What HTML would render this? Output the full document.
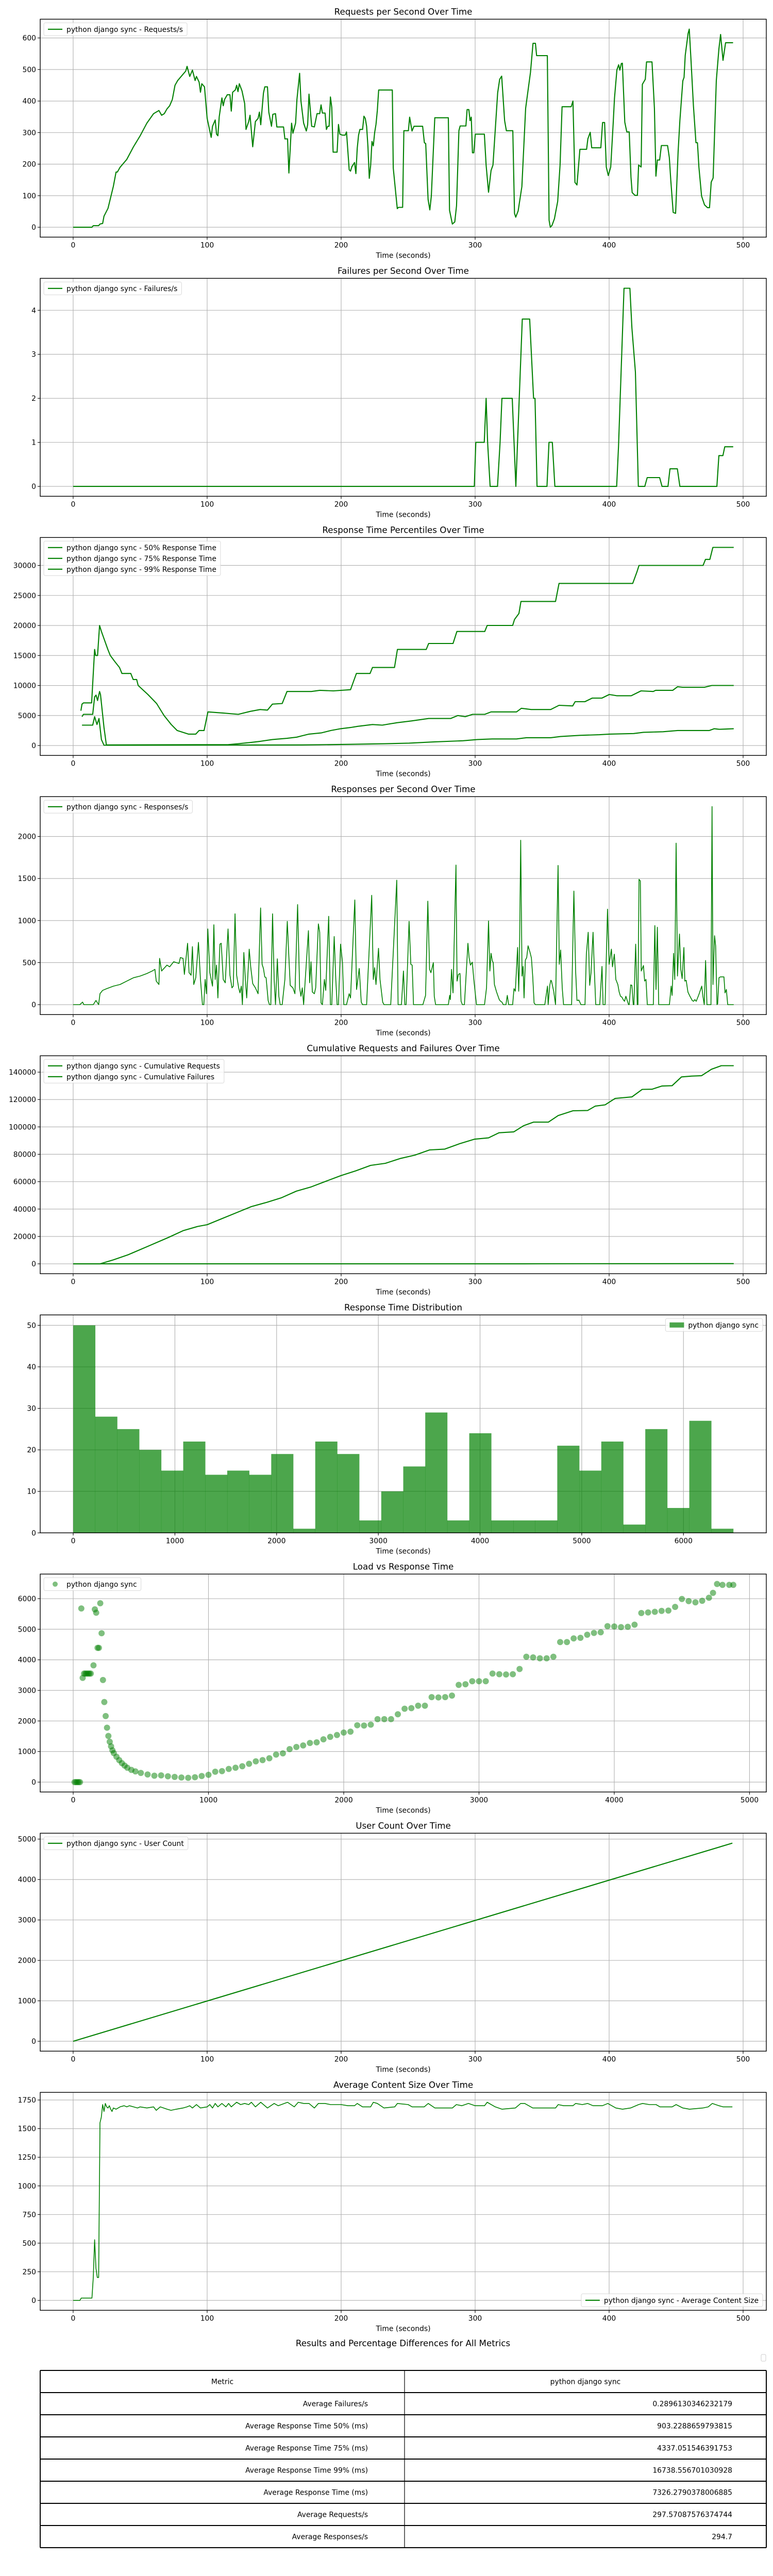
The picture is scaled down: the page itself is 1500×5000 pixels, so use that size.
<!DOCTYPE html>
<html><head><meta charset="utf-8"><title>Load test report</title>
<style>
html,body{margin:0;padding:0;background:#fff;}
body{width:1500px;height:5000px;overflow:hidden;font-family:"DejaVu Sans","Liberation Sans",sans-serif;}
svg{display:block;}
svg text{font-family:"DejaVu Sans","Liberation Sans",sans-serif;fill:#000;}
</style></head>
<body>
<svg id="fig" width="1500" height="5000" viewBox="0 0 1500 5000">
<rect x="0" y="0" width="1500" height="5000" fill="#fff"/>
</svg>
<script>
// ---------- DATA ----------
const reqT=[0,14,15,19,20,22,23,26,30,32,33,35,40,45,50,55,60,64,66,68,70,72,74,76,78,80,82,84,85,87,89,91,92,94,95,96,98,100,103,104,106,107,108,109,111,112,113,115,117,118,119,121,122,123,124,126,128,129,131,132,134,136,138,139,140,142,143,145,146,148,149,151,152,157,158,160,161,163,164,166,167,169,170,172,174,175,176,178,180,182,184,185,186,188,189,190,191,192,193,194,197,198,199,201,203,204,206,207,208,210,211,212,213,214,216,217,218,219,220,221,222,223,224,225,226,227,228,
238.2,238.9,241.9,242.8,245.9,246.8,250.2,251.1,252.9,254.4,260.8,262.1,263.1,264.9,266.2,267.3,269.9,280.0,280.9,283.0,284.8,286.1,287.9,288.8,293.1,294.0,295.3,296.2,297.1,298.0,299.0,300.1,306.9,308.2,310.0,311.9,313.3,316.8,318.3,319.8,322.0,323.3,328.1,329.4,330.3,332.1,334.9,337.7,341.3,343.2,345.0,345.9,353.9,355.2,356.1,357.4,359.2,361.6,363.4,364.9,371.7,373.0,374.5,376.0,378.2,383.2,384.1,385.9,387.0,393.8,395.1,396.6,397.9,399.4,401.2,403.0,404.0,405.8,407.1,408.0,409.1,409.9,411.7,413.2,415.0,416.3,417.2,419.3,421.1,422.0,423.9,424.8,427.0,427.9,432.0,433.8,434.9,436.0,437.7,439.0,443.6,444.9,446.0,447.8,449.6,451.5,452.8,455.0,455.9,456.8,458.9,459.8,461.1,462.9,464.8,465.9,467.0,469.0,471.2,473.4,474.9,476.2,477.6,480.0,481.9,483.2,485.0,486.9,492.5];
const reqV=[0,0,5,5,10,12,35,60,130,175,175,190,215,255,290,330,360,370,355,360,375,385,405,450,465,475,485,495,510,478,498,465,478,460,428,455,445,345,285,320,340,295,290,350,410,385,405,420,420,368,428,435,450,430,455,432,392,310,335,355,255,335,345,365,325,425,445,445,365,320,358,360,318,318,280,280,172,330,298,330,405,488,400,330,305,325,422,320,318,360,360,388,362,362,310,320,320,413,380,238,238,326,295,292,292,302,182,178,192,205,170,250,292,310,310,352,345,320,255,155,195,272,258,300,326,370,435,
435,188,59,63,63,306,306,349,305,320,320,268,265,88,55,99,347,347,54,10,17,68,306,321,321,373,373,338,349,236,236,295,295,197,111,180,197,426,469,479,338,306,306,44,32,52,129,377,491,583,583,544,544,22,0,6,27,82,197,382,382,400,142,134,247,247,280,301,252,252,332,332,191,164,191,327,409,499,515,498,519,520,333,302,302,159,110,101,101,197,191,453,469,524,524,377,162,213,213,259,259,221,150,47,44,240,338,464,475,545,614,628,529,385,268,268,191,99,71,62,62,143,156,465,565,611,529,585,585];

const failT=[0,299.4,300.5,306.8,308.2,309.3,311.2,316.7,318.6,320.0,327.7,330.4,335.2,340.7,343.6,344.7,346.2,353.6,355.1,357.6,359.5,405.6,407.0,411.1,415.5,417.0,419.6,421.8,426.6,428.4,437.7,439.5,443.9,445.4,450.9,452.8,480.4,481.9,484.9,486.3,492.6];
const failV=[0,0,1,1,2,1,0,0,1,2,2,0,3.8,3.8,2,2,0,0,1,1,0,0,0.9,4.5,4.5,3.6,2.6,0,0,0.2,0.2,0,0,0.4,0.4,0,0,0.7,0.7,0.9,0.9];

const p99T=[5.8,6.6,7.7,13.8,16.0,16.8,18.2,19.7,21.1,25.9,27.7,31.0,34.6,36.4,43.0,44.8,47.4,48.5,55.8,62.3,67.8,73.2,77.6,86.0,91.5,94.0,97.7,100.6,112.2,123.2,132.3,139.6,145.0,148.7,156.0,159.6,177.8,184.0,194.2,207.0,211.4,221.6,223.4,239.8,242.0,263.5,265.3,283.5,286.4,307.2,309.0,328.0,329.4,332.7,334.2,360.0,362.6,417.6,420.9,422.3,470.1,471.9,475.2,477.4,493.0];
const p99V=[5800,6900,7100,7100,16000,15000,15000,20000,19000,16000,15000,14000,13000,12000,12000,11000,11000,10000,8500,7000,5000,3500,2500,1900,1900,2500,2500,5600,5400,5200,5700,6000,5900,6900,7000,9000,9000,9200,9100,9300,12000,12000,13000,13000,16000,16000,17000,17000,19000,19000,20000,20000,21000,22000,24000,24000,27000,27000,29000,30000,30000,31000,31000,33000,33000];
const p75T=[6.6,7.7,14.6,16.0,17.1,18.2,19.7,20.4,23.0,24.8,115.9,123.2,132.3,139.6,148.7,159.6,166.9,170.5,176.0,185.1,192.4,199.7,207.0,212.4,223.4,230.7,241.6,252.5,265.3,281.7,287.1,292.6,298.1,307.2,311.9,330.9,334.5,341.8,356.4,362.6,372.8,374.6,381.9,387.4,394.6,400.1,405.6,416.5,423.8,432.9,434.7,447.5,451.1,454.8,471.2,476.6,493.0];
const p75V=[4800,5200,5200,8100,8400,7500,9000,8500,3000,100,150,300,500,700,1000,1200,1400,1600,1900,2100,2500,2800,3000,3200,3500,3400,3800,4100,4500,4500,5000,4800,5200,5200,5600,5600,6200,6000,6000,6700,6600,7300,7300,7900,7900,8500,8300,8300,9100,9000,9200,9200,9800,9700,9700,10000,10000];
const p50T=[6.6,14.6,16.0,17.8,19.3,21.1,23.0,170.5,207.0,232.5,250.7,268.9,290.8,301.7,312.7,330.9,338.2,356.4,363.7,378.2,392.8,400.1,418.3,425.6,440.2,451.1,474.8,478.5,482.1,493.0];
const p50V=[3400,3400,4800,3500,4500,1000,50,100,200,300,400,600,800,1000,1100,1100,1300,1300,1500,1700,1800,1900,2000,2200,2300,2500,2500,2800,2700,2800];

const respT=[0,5,7,8,15,17,19,20,22,25,30,35,40,45,50,55,59,61,62,64,64.5,66,70,72,75,79,80,82,83,85.4,86.5,88,89,90,91.5,93.5,95,96.5,97.5,98.5,99.5,100.5,102,104,105,106,107,108,109.5,110.5,112,113.5,115.6,117,118.5,119.5,120.8,122,123.5,124.5,125.5,126.3,127.4,128.5,129.5,131.4,132.5,134,136,138,139.9,141,142,143,144,145.5,146.5,147.5,148.8,150,151,152.4,153.5,154.5,156,158,159.8,161,162,164,165.5,167.5,169,170,171,172,175.6,176.5,177.5,178.5,180,181,183,184,185,186,187.5,188.5,190.7,192,193,194.8,196,197,198,199.6,201,202,204,206,207,210.2,211.5,213.5,215,216,219,222.8,224,225,226,227.9,229,231,232,237,241.5,242.5,245,246.5,247.5,248.5,250.7,252,253,254,261,263,264.7,266,267,268.8,269.5,270.5,280,281,281.5,282.4,283.5,285.7,286.5,287.5,288.7,289.5,290.5,292,294.6,295.5,296.5,297.9,299,301,307,308.5,310,311,311.9,312.8,313.5,314.4,316,318,319,320,321,323,324,325,328,329,330,331.7,332.5,333,334,335,335.8,336.5,337.5,338.5,339.5,341,342,343,344,345,352,354,354.5,355.7,356.5,357,358.6,360,361.9,362.8,363.8,365,366,372,373.7,375,376,377.4,379,382,383,384.4,385.5,386.5,388,389,390,393,394.7,395.5,397,398.8,400,401.7,402.5,403.9,405,406.5,407.5,408.5,409.5,410.5,411.5,412.5,413.5,414.5,415,416.1,417,418,418.5,419.8,421,421.5,422.3,423.3,424,425.6,426.5,427.5,428.5,433,434.1,435,436,437,445,446.3,447,448.1,449,450,451,452.5,453.5,454.5,455.8,456.5,457.5,458.8,460,461,462,463,464,465,466,467,469.1,470,471,472,473,476,476.8,477.5,478.7,479.5,480.5,481,482,483,485.7,486.5,487.5,488.5,493];
const respV=[0,0,30,0,0,50,0,130,170,190,220,240,280,320,340,370,400,420,280,240,550,400,470,450,510,490,560,550,360,730,380,350,690,240,320,740,300,0,0,300,130,900,380,220,950,300,470,80,720,730,300,260,900,350,200,220,1080,350,200,140,220,0,620,300,80,660,450,250,200,130,1150,480,430,330,320,50,0,0,1080,300,0,545,100,0,0,300,990,560,230,200,130,1190,200,100,200,0,880,260,510,150,130,200,960,860,20,0,300,170,1050,0,0,810,300,0,0,720,500,0,0,130,80,1245,180,430,30,0,0,1300,300,440,240,670,300,30,0,0,1480,0,0,400,0,0,990,480,470,0,0,110,1230,420,380,500,100,0,0,110,60,420,140,1660,280,360,370,40,0,0,730,560,470,505,300,0,0,200,995,400,610,520,500,240,150,60,40,30,0,0,110,0,0,190,160,680,160,450,1955,340,455,80,530,560,700,620,555,330,20,0,0,220,0,230,290,280,160,0,1655,480,650,200,0,0,1350,400,50,55,0,0,600,860,230,380,860,400,0,0,455,0,0,1135,480,660,450,600,300,240,150,100,90,60,40,100,50,0,0,235,230,0,0,720,0,0,1490,1470,400,465,280,300,0,0,940,180,920,0,0,220,110,610,300,1920,340,840,420,310,680,280,290,150,110,80,50,40,60,40,80,120,220,100,0,525,0,0,2355,240,820,700,0,10,320,330,330,140,180,0,0];

const cumT=[0,20,30,41,56,71,82,93,100,111,122,133,144.5,155.6,166.6,177.7,188.8,199.8,210.9,222,233,244,255,266,277.3,288,299.4,310,317.8,328.9,336,343.6,354.7,362,373,384,389.7,397,404.5,417,424.7,432,439.5,447,454,461.6,469,476.4,483.7,493];
const cumReq=[0,0,2900,6600,12900,19200,24200,27300,28600,33000,37400,41800,44900,48300,53100,56200,60400,64400,67900,71900,73400,76900,79400,83200,83800,87600,91000,92000,95700,96400,100800,103500,103500,108300,111800,112000,115200,116100,120800,121900,127400,127500,129900,130100,136500,137100,137400,142100,144700,144700];
const cumFailT=[0,300,350,410,493];
const cumFail=[0,0,40,100,140];

const histCounts=[50,28,25,20,15,22,14,15,14,19,1,22,19,3,10,16,29,3,24,3,3,3,21,15,22,2,25,6,27,1,17];
histCounts.length=30;
const histMin=0, histMax=6490;

const loadUsers=[10,20,30,40,50,60,70,80,90,100,110,120,130,150,160,170,180,190,200,210,220,230,240,250,260,270,280,290,300,320,340,360,380,400,430,460,500,550,600,650,700,750,800,850,900,950,1000,1050,1100,1150,1200,1250,1300,1350,1400,1450,1500,1550,1600,1650,1700,1750,1800,1850,1900,1950,2000,2050,2100,2150,2200,2250,2300,2350,2400,2450,2500,2550,2600,2650,2700,2750,2800,2850,2900,2950,3000,3050,3100,3150,3200,3250,3300,3350,3400,3450,3500,3550,3600,3650,3700,3750,3800,3850,3900,3950,4000,4050,4100,4150,4200,4250,4300,4350,4400,4450,4500,4550,4600,4650,4700,4730,4760,4800,4850,4880];
const loadResp=[0,0,0,0,0,5680,3410,3550,3550,3550,3550,3550,3550,3820,5650,5540,4390,4390,5850,4870,3340,2620,2160,1780,1510,1320,1170,1040,950,830,720,620,540,470,400,350,300,250,210,220,190,170,150,140,160,200,240,340,360,430,470,520,600,680,720,780,900,940,1080,1150,1200,1280,1300,1400,1480,1540,1620,1650,1860,1850,1880,2060,2060,2060,2220,2400,2420,2500,2500,2780,2770,2780,2830,3180,3200,3300,3300,3300,3550,3530,3520,3530,3700,4100,4080,4050,4050,4100,4580,4580,4700,4720,4820,4880,4900,5100,5090,5070,5080,5150,5530,5550,5570,5600,5610,5730,5990,5920,5880,5930,6030,6190,6480,6450,6450,6450];

const userT=[0,492];
const userV=[0,4900];

const sizeT=[0,5,6,13,14,15,16,17,18,19,20,21,22,23,24,25,26,27,28,29,30,32,35,38,40,42,45,48,50,55,60,62,65,70,73,77,82,85,87,89,92,95,100,102,104,106,108,111,114,116,118,122,125,128,131,133,136,140,145,150,153,160,165,168,172,176,180,183,188,192,200,205,210,212,216,222,224,227,232,240,242,250,253,262,265,270,283,286,290,295,300,307,309,315,320,330,334,337,343,360,362,366,373,375,380,384,388,395,399,405,410,416,422,425,430,435,438,447,450,455,460,470,474,477,482,485,492];
const sizeV=[0,0,20,20,20,200,530,280,200,200,1550,1600,1710,1650,1720,1690,1680,1700,1670,1650,1680,1670,1690,1700,1690,1700,1690,1680,1690,1680,1690,1660,1690,1670,1660,1670,1680,1690,1700,1680,1710,1680,1690,1710,1680,1720,1690,1720,1690,1720,1690,1730,1710,1720,1710,1730,1690,1730,1680,1720,1700,1730,1690,1730,1720,1720,1680,1720,1720,1710,1710,1700,1700,1720,1690,1690,1730,1720,1680,1690,1720,1710,1690,1690,1720,1680,1680,1710,1700,1720,1700,1700,1730,1690,1670,1680,1720,1720,1680,1680,1710,1700,1700,1720,1710,1720,1700,1700,1720,1680,1670,1680,1710,1720,1710,1710,1690,1690,1710,1680,1670,1680,1690,1720,1700,1690,1690];

const tableMetrics=["Average Failures/s","Average Response Time 50% (ms)","Average Response Time 75% (ms)","Average Response Time 99% (ms)","Average Response Time (ms)","Average Requests/s","Average Responses/s"];
const tableValues=["0.2896130346232179","903.2288659793815","4337.051546391753","16738.556701030928","7326.2790378006885","297.57087576374744","294.7"];

const timeTicks=[0,100,200,300,400,500];

// ---------- RENDER ----------
const svg=document.getElementById('fig');
const NS=svg.namespaceURI;
const GREEN='#008000';
function mk(tag,attrs,name,parent){
  const el=document.createElementNS(NS,tag);
  for(const k in attrs) el.setAttribute(k,attrs[k]);
  
  
  (parent||svg).appendChild(el);
  return el;
}
function txt(x,y,s,size,anchor,name,parent){
  const t=mk('text',{x:x,y:y,'font-size':size,'text-anchor':anchor},name,parent);
  t.textContent=s;
  return t;
}
const L=78,R=1487,H=423;
function makeAxes(idx,c){
  const T=37.3+503*idx, B=T+H;
  const g=mk('g',{},c.name);
  const sx=v=>L+(v-c.x0)/(c.x1-c.x0)*(R-L);
  const sy=v=>B-(v-c.y0)/(c.y1-c.y0)*H;
  const grid=mk('g',{},c.name+'-grid',g);
  c.xt.forEach(v=>{
    const gl=mk('line',{x1:sx(v),x2:sx(v),y1:T,y2:B,stroke:'#b0b0b0','stroke-width':1.1},'x-gridline',grid);
  });
  c.yt.forEach(v=>{
    const gl=mk('line',{x1:L,x2:R,y1:sy(v),y2:sy(v),stroke:'#b0b0b0','stroke-width':1.1},'y-gridline',grid);
  });
  const plot=mk('g',{},c.name+'-marks',g);
  c.draw(plot,sx,sy,T,B);
  const spine=mk('rect',{x:L,y:T,width:R-L,height:H,fill:'none',stroke:'#000','stroke-width':1.4},'axes-frame',g);
  const xa=mk('g',{},'x-axis',g);
  c.xt.forEach(v=>{
    const tk=mk('line',{x1:sx(v),x2:sx(v),y1:B,y2:B+5,stroke:'#000','stroke-width':1.1},'x-tick',xa);
    txt(sx(v),B+20,String(v),13.9,'middle','x-tick-label',xa);
  });
  const ya=mk('g',{},'y-axis',g);
  c.yt.forEach((v,i)=>{
    const tk=mk('line',{x1:L-5,x2:L,y1:sy(v),y2:sy(v),stroke:'#000','stroke-width':1.1},'y-tick',ya);
    txt(L-8,sy(v)+5,String(v),13.9,'end','y-tick-label',ya);
  });
  txt((L+R)/2,T-9,c.title,16.7,'middle','chart-title',g);
  txt((L+R)/2,B+40,'Time (seconds)',13.9,'middle','x-axis-title',g);
  if(c.legend) legend(g,c.legend,c.legendPos||'ul',T,B);
}
function legend(g,entries,pos,T,B){
  const lg=mk('g',{},'legend',g);
  const box=mk('rect',{rx:3,ry:3,fill:'#fff','fill-opacity':0.8,stroke:'#d8d8d8','stroke-width':1},'legend-box',lg);
  let maxW=0;const texts=[];
  entries.forEach((e,k)=>{
    const t=txt(0,0,e.label,13.9,'start','legend-label',lg);
    texts.push(t);
    maxW=Math.max(maxW,t.getComputedTextLength());
  });
  const w=maxW+52, h=4+21*entries.length;
  const x= pos==='ul'? L+7 : R-7-w;
  const y= pos==='lr'? B-7-h : T+7;
  box.setAttribute('x',x);box.setAttribute('y',y);box.setAttribute('width',w);box.setAttribute('height',h);
  entries.forEach((e,k)=>{
    const cy=y+12.5+21*k;
    if(e.type==='line'){
      const h1=mk('line',{x1:x+8,x2:x+36,y1:cy,y2:cy,stroke:GREEN,'stroke-width':2.1},'legend-swatch',lg);
    }else if(e.type==='patch'){
      const h2=mk('rect',{x:x+8,y:cy-5,width:28,height:10,fill:GREEN,'fill-opacity':0.7},'legend-swatch',lg);
    }else{
      const h3=mk('circle',{cx:x+22,cy:cy,r:5,fill:GREEN,'fill-opacity':0.5},'legend-swatch',lg);
    }
    texts[k].setAttribute('x',x+44);texts[k].setAttribute('y',cy+5);
  });
}
function line(parent,xs,ys,sx,sy,name){
  const pts=xs.map((v,i)=>sx(v).toFixed(1)+','+sy(ys[i]).toFixed(1)).join(' ');
  return mk('polyline',{points:pts,fill:'none',stroke:GREEN,'stroke-width':2.1,'stroke-linejoin':'round'},name,parent);
}
const TX0=-24.6,TX1=517.3;

makeAxes(0,{name:'requests-per-second-chart',title:'Requests per Second Over Time',x0:TX0,x1:TX1,y0:-31.4,y1:659.4,xt:timeTicks,yt:[0,100,200,300,400,500,600],
  legend:[{label:'python django sync - Requests/s',type:'line'}],
  draw:(p,sx,sy)=>{line(p,reqT,reqV,sx,sy,'requests-line');}});
makeAxes(1,{name:'failures-per-second-chart',title:'Failures per Second Over Time',x0:TX0,x1:TX1,y0:-0.225,y1:4.725,xt:timeTicks,yt:[0,1,2,3,4],
  legend:[{label:'python django sync - Failures/s',type:'line'}],
  draw:(p,sx,sy)=>{line(p,failT,failV,sx,sy,'failures-line');}});
makeAxes(2,{name:'response-percentiles-chart',title:'Response Time Percentiles Over Time',x0:TX0,x1:TX1,y0:-1650,y1:34650,xt:timeTicks,yt:[0,5000,10000,15000,20000,25000,30000],
  legend:[{label:'python django sync - 50% Response Time',type:'line'},{label:'python django sync - 75% Response Time',type:'line'},{label:'python django sync - 99% Response Time',type:'line'}],
  draw:(p,sx,sy)=>{line(p,p50T,p50V,sx,sy,'p50-line');line(p,p75T,p75V,sx,sy,'p75-line');line(p,p99T,p99V,sx,sy,'p99-line');}});
makeAxes(3,{name:'responses-per-second-chart',title:'Responses per Second Over Time',x0:TX0,x1:TX1,y0:-118,y1:2473,xt:timeTicks,yt:[0,500,1000,1500,2000],
  legend:[{label:'python django sync - Responses/s',type:'line'}],
  draw:(p,sx,sy)=>{const l=line(p,respT,respV,sx,sy,'responses-line');l.setAttribute('stroke-width',1.6);}});
makeAxes(4,{name:'cumulative-chart',title:'Cumulative Requests and Failures Over Time',x0:TX0,x1:TX1,y0:-7235,y1:151935,xt:timeTicks,yt:[0,20000,40000,60000,80000,100000,120000,140000],
  legend:[{label:'python django sync - Cumulative Requests',type:'line'},{label:'python django sync - Cumulative Failures',type:'line'}],
  draw:(p,sx,sy)=>{line(p,cumT,cumReq,sx,sy,'cumulative-requests-line');line(p,cumFailT,cumFail,sx,sy,'cumulative-failures-line');}});
makeAxes(5,{name:'response-time-histogram',title:'Response Time Distribution',x0:-324.5,x1:6814.5,y0:0,y1:52.5,xt:[0,1000,2000,3000,4000,5000,6000],yt:[0,10,20,30,40,50],
  legend:[{label:'python django sync',type:'patch'}],legendPos:'ur',
  draw:(p,sx,sy)=>{
    const bw=(histMax-histMin)/histCounts.length;
    histCounts.forEach((c,i)=>{
      const x0=sx(histMin+i*bw),x1=sx(histMin+(i+1)*bw);
      const b=mk('rect',{x:x0,y:sy(c),width:x1-x0+0.3,height:sy(0)-sy(c),fill:GREEN,'fill-opacity':0.7},'histogram-bar',p);
    });
  }});
makeAxes(6,{name:'load-vs-response-chart',title:'Load vs Response Time',x0:-244,x1:5124,y0:-324,y1:6804,xt:[0,1000,2000,3000,4000,5000],yt:[0,1000,2000,3000,4000,5000,6000],
  legend:[{label:'python django sync',type:'marker'}],
  draw:(p,sx,sy)=>{
    loadUsers.forEach((u,i)=>{
      const pt=mk('circle',{cx:sx(u),cy:sy(loadResp[i]),r:6,fill:GREEN,'fill-opacity':0.5},'scatter-point',p);
    });
  }});
makeAxes(7,{name:'user-count-chart',title:'User Count Over Time',x0:TX0,x1:TX1,y0:-245,y1:5145,xt:timeTicks,yt:[0,1000,2000,3000,4000,5000],
  legend:[{label:'python django sync - User Count',type:'line'}],
  draw:(p,sx,sy)=>{line(p,userT,userV,sx,sy,'user-count-line');}});
makeAxes(8,{name:'content-size-chart',title:'Average Content Size Over Time',x0:TX0,x1:TX1,y0:-86.5,y1:1816.5,xt:timeTicks,yt:[0,250,500,750,1000,1250,1500,1750],
  legend:[{label:'python django sync - Average Content Size',type:'line'}],legendPos:'lr',
  draw:(p,sx,sy)=>{const l=line(p,sizeT,sizeV,sx,sy,'content-size-line');l.setAttribute('stroke-width',1.6);}});

// ---------- TABLE ----------
(function(){
  const g=mk('g',{},'results-table');
  txt(782,4554,'Results and Percentage Differences for All Metrics',16.7,'middle','table-title',g);
  const el=mk('rect',{x:1477,y:4570,width:9,height:13,rx:2,fill:'#fff',stroke:'#ccc','stroke-width':1},'empty-legend',g);
  const top=4601,rh=43,mid=785;
  const rows=tableMetrics.length+1;
  for(let r=0;r<=rows;r++){
    const y=top+r*rh;
    const hl=mk('line',{x1:L,x2:R,y1:y,y2:y,stroke:'#000','stroke-width':2},'table-row-border',g);
  }
  const v1=mk('line',{x1:L,x2:L,y1:top,y2:top+rows*rh,stroke:'#000','stroke-width':2},'table-border-left',g);
  const v2=mk('line',{x1:mid,x2:mid,y1:top,y2:top+rows*rh,stroke:'#000','stroke-width':1.2},'table-column-divider',g);
  const v3=mk('line',{x1:R,x2:R,y1:top,y2:top+rows*rh,stroke:'#000','stroke-width':2},'table-border-right',g);
  txt((L+mid)/2,top+rh/2+5,'Metric',13.9,'middle','table-header-metric',g);
  txt((mid+R)/2,top+rh/2+5,'python django sync',13.9,'middle','table-header-series',g);
  tableMetrics.forEach((m,i)=>{
    const cy=top+(i+1)*rh+rh/2+5;
    txt(714,cy,m,13.9,'end','table-metric-label',g);
    txt(1421,cy,tableValues[i],13.9,'end','table-metric-value',g);
  });
})();
</script>
</body></html>
